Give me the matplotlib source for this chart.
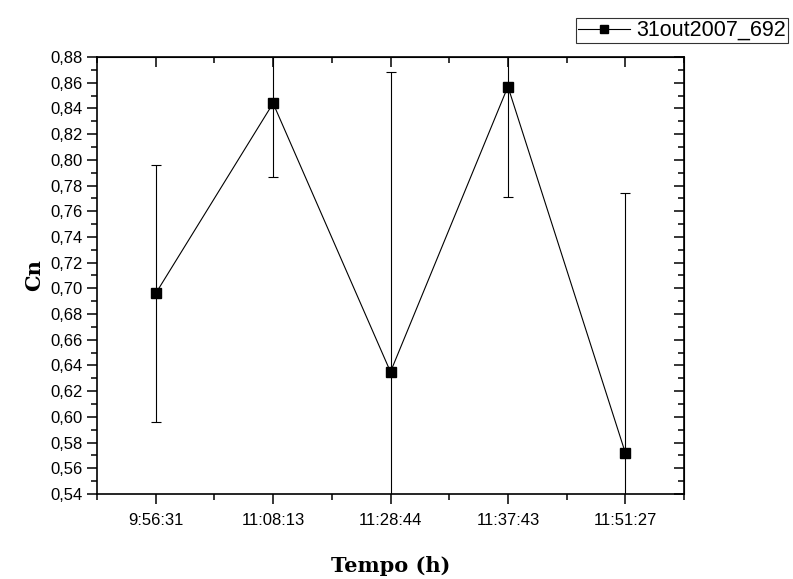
import matplotlib
matplotlib.use("Agg")
import matplotlib.pyplot as plt
from matplotlib.lines import Line2D
from matplotlib.ticker import MultipleLocator, FuncFormatter

# data
times = ["9:56:31", "11:08:13", "11:28:44", "11:37:43", "11:51:27"]
cn = [0.696, 0.844, 0.635, 0.857, 0.572]
cn_err = [0.100, 0.057, 0.233, 0.086, 0.202]
series_name = "31out2007_692"

plt.rcParams['font.family'] = ['Liberation Sans', 'DejaVu Sans']

fig = plt.figure(figsize=(7.93, 5.79), dpi=100)
ax = fig.add_axes([0.1223, 0.1468, 0.7403, 0.7548])

x = list(range(len(times)))
ax.errorbar(x, cn, yerr=cn_err, color='black', linewidth=0.8, elinewidth=0.8,
            capsize=3.6, capthick=0.8, marker='s', markersize=7.2,
            markerfacecolor='black', markeredgecolor='black')

ax.set_xlim(-0.5, 4.5)
ax.set_ylim(0.54, 0.88)
ax.set_xticks(x)
ax.set_xticklabels(times, fontsize=12)
ax.set_xticks([i + 0.5 for i in range(-1, 5)], minor=True)
ax.yaxis.set_major_locator(MultipleLocator(0.02))
ax.yaxis.set_minor_locator(MultipleLocator(0.01))
ax.yaxis.set_major_formatter(FuncFormatter(lambda v, p: f"{v:.2f}".replace('.', ',')))
ax.tick_params(axis='y', labelsize=12)

for s in ax.spines.values():
    s.set_linewidth(1.2)

ax.tick_params(which='major', direction='out', length=7, width=1.1, pad=3,
               top=False, right=False)
ax.tick_params(which='minor', direction='out', length=4, width=1.1,
               top=False, right=False)
ax.tick_params(axis='x', which='major', pad=7)

# mirrored inward ticks on top and right
axt = ax.secondary_xaxis('top')
axt.set_xticks(x)
axt.set_xticks([i + 0.5 for i in range(-1, 5)], minor=True)
axt.tick_params(which='major', direction='in', length=7, width=1.1, labeltop=False)
axt.tick_params(which='minor', direction='in', length=4, width=1.1)
axr = ax.secondary_yaxis('right')
axr.yaxis.set_major_locator(MultipleLocator(0.02))
axr.yaxis.set_minor_locator(MultipleLocator(0.01))
axr.tick_params(which='major', direction='in', length=7, width=1.1, labelright=False)
axr.tick_params(which='minor', direction='in', length=4, width=1.1)

ax.set_xlabel("Tempo (h)", fontsize=15, fontweight='bold', family='DejaVu Serif', labelpad=20)
ax.set_ylabel("Cn", fontsize=15, fontweight='bold', family='DejaVu Serif', labelpad=5)

handle = Line2D([], [], color='black', linewidth=0.8, marker='s', markersize=6,
                markerfacecolor='black')
leg = fig.legend([handle], [series_name], loc='upper right',
                 bbox_to_anchor=(0.994, 0.969), fontsize=15.5,
                 frameon=True, fancybox=False, borderpad=0.1, handlelength=2.4,
                 handletextpad=0.3, borderaxespad=0)
leg.get_frame().set_edgecolor('black')
leg.get_frame().set_linewidth(0.8)

fig.savefig("out.png", dpi=100)
